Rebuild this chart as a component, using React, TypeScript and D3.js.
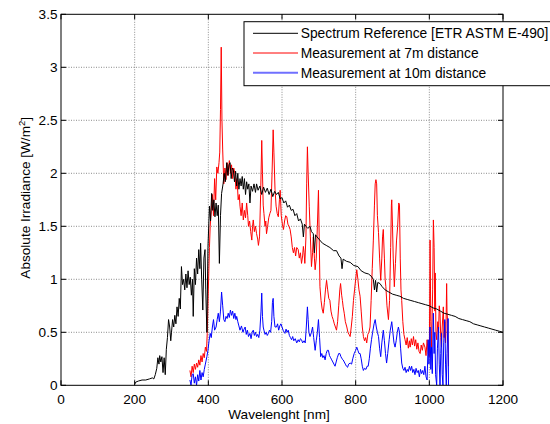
import React from 'react';
import * as d3 from 'd3';

// wavelength [nm], irradiance [W/m^2]
const refSeries: [number, number][] = [
  [200,0.01],[203,0.03],[210,0.04],[220,0.05],[230,0.05],[240,0.06],[248,0.07],[252,0.06],[256,0.1],[260,0.16],[263,0.26],[266,0.2],[268,0.28],[271,0.22],[274,0.27],[277,0.12],[280,0.26],[283,0.1],[286,0.34],[289,0.45],[292,0.62],[295,0.55],[298,0.42],[300,0.5],[303,0.62],[306,0.55],[309,0.66],[312,0.58],[315,0.74],[318,0.65],[321,0.82],[324,0.72],[327,1.12],[330,0.95],[333,1.0],[336,0.9],[339,1.05],[342,0.92],[345,1.08],[348,0.95],[351,1.02],[354,0.85],[357,1.0],[359,0.65],[362,1.1],[365,0.95],[368,1.2],[371,1.05],[374,1.28],[377,1.1],[379,1.34],[382,1.0],[385,0.71],[388,1.2],[391,1.28],[393,0.9],[396,0.5],[399,1.3],[403,1.69],[406,1.55],[409,1.81],[412,1.65],[415,1.75],[418,1.59],[421,1.72],[424,1.6],[427,1.7],[430,1.15],[433,1.6],[436,1.81],[440,1.9],[443,2.0],[446,1.92],[450,2.1],[453,1.98],[456,2.08],[459,2.1],[462,1.95],[465,2.05],[468,2.03],[471,1.92],[474,2.02],[477,1.88],[480,2.0],[483,1.85],[486,1.95],[489,1.88],[492,1.97],[495,1.85],[498,1.95],[501,1.8],[504,1.92],[507,1.85],[510,1.9],[513,1.72],[516,1.88],[520,1.83],[524,1.9],[528,1.82],[531,1.9],[535,1.84],[540,1.88],[545,1.8],[550,1.87],[555,1.82],[560,1.86],[565,1.8],[570,1.85],[575,1.78],[580,1.83],[585,1.8],[590,1.82],[595,1.76],[600,1.77],[605,1.72],[610,1.74],[615,1.68],[620,1.7],[625,1.65],[630,1.66],[635,1.6],[640,1.62],[645,1.55],[650,1.57],[655,1.52],[658,1.4],[661,1.52],[665,1.5],[670,1.48],[676,1.5],[680,1.45],[685,1.43],[688,1.25],[691,1.42],[695,1.4],[700,1.38],[710,1.34],[720,1.32],[730,1.3],[740,1.27],[748,1.27],[755,1.22],[760,1.2],[763,1.1],[766,1.19],[775,1.17],[785,1.16],[795,1.13],[806,1.12],[815,1.08],[825,1.06],[835,1.05],[842,1.03],[848,1.0],[851,0.9],[854,0.99],[857,0.88],[860,0.97],[866,0.96],[872,0.93],[880,0.9],[890,0.88],[900,0.86],[910,0.85],[920,0.84],[930,0.82],[940,0.81],[950,0.8],[960,0.79],[970,0.78],[980,0.77],[990,0.76],[1000,0.75],[1010,0.73],[1020,0.72],[1030,0.7],[1040,0.68],[1050,0.67],[1060,0.66],[1070,0.65],[1080,0.63],[1090,0.62],[1100,0.61],[1110,0.6],[1120,0.58],[1130,0.57],[1140,0.56],[1150,0.55],[1160,0.54],[1170,0.53],[1180,0.52],[1190,0.51],[1200,0.5],
];

const m7Series: [number, number][] = [
  [350,0.14],[353,0.08],[356,0.18],[359,0.12],[362,0.2],[365,0.15],[368,0.21],[371,0.17],[374,0.24],[377,0.19],[380,0.28],[383,0.22],[386,0.3],[389,0.26],[392,0.36],[395,0.32],[397,0.49],[400,0.9],[403,1.3],[405,1.5],[408,1.65],[411,1.8],[414,1.6],[417,1.95],[420,1.75],[423,2.06],[426,2.0],[429,2.1],[431,2.2],[433,2.6],[435,3.19],[437,2.5],[439,2.22],[442,1.9],[445,2.05],[448,1.94],[451,2.1],[454,1.98],[457,2.12],[460,2.0],[463,2.08],[466,1.95],[469,2.05],[472,2.0],[475,1.85],[478,1.95],[481,1.75],[484,1.8],[486,1.69],[489,1.6],[492,1.72],[495,1.56],[498,1.65],[501,1.58],[504,1.72],[507,1.6],[509,1.5],[512,1.55],[515,1.45],[518,1.37],[520,1.5],[522,1.56],[525,1.45],[528,1.5],[531,1.43],[534,1.38],[536,1.32],[539,1.4],[542,1.8],[545,2.31],[547,2.0],[549,1.7],[551,1.62],[554,1.5],[556,1.55],[558,1.43],[561,1.5],[564,1.58],[567,1.62],[570,1.65],[573,2.0],[576,2.41],[578,2.2],[581,1.85],[584,1.69],[587,1.62],[590,1.59],[593,1.75],[595,1.84],[598,1.6],[601,1.52],[604,1.47],[607,1.55],[610,1.6],[613,1.59],[616,1.52],[619,1.5],[622,1.47],[625,1.4],[628,1.3],[631,1.25],[634,1.3],[637,1.22],[640,1.3],[644,1.28],[647,1.2],[650,1.25],[653,1.15],[656,1.22],[658,1.31],[660,1.25],[662,1.15],[665,1.4],[667,1.9],[669,2.25],[671,2.0],[674,1.69],[677,1.4],[680,1.12],[683,1.25],[685,1.4],[688,1.2],[690,1.09],[693,1.2],[696,1.5],[699,1.84],[701,1.4],[703,0.93],[706,0.8],[709,0.72],[712,0.68],[715,0.78],[718,0.9],[721,0.99],[724,0.9],[727,0.82],[730,0.8],[733,0.7],[736,0.65],[739,0.62],[742,0.58],[745,0.55],[748,0.52],[751,0.6],[754,0.75],[757,0.9],[759,0.96],[762,0.85],[764,0.8],[766,0.74],[769,0.68],[772,0.6],[776,0.55],[779,0.5],[782,0.48],[785,0.46],[788,0.55],[791,0.65],[794,0.8],[797,0.9],[800,1.0],[803,1.09],[806,1.0],[809,0.9],[812,0.84],[815,0.7],[818,0.55],[821,0.46],[824,0.42],[827,0.45],[830,0.4],[833,0.48],[836,0.5],[839,0.55],[842,0.8],[845,1.1],[848,1.37],[851,1.7],[853,1.9],[855,1.94],[857,1.9],[859,1.6],[862,1.44],[865,1.2],[868,0.99],[871,1.2],[873,1.4],[875,1.47],[878,1.2],[880,1.0],[882,0.93],[885,0.75],[889,0.62],[892,0.8],[895,1.3],[897,1.7],[898,1.75],[900,1.5],[902,1.2],[905,0.93],[908,1.15],[911,1.37],[914,1.5],[917,1.72],[919,1.7],[921,1.2],[923,0.9],[925,0.8],[928,0.6],[931,0.48],[934,0.43],[937,0.38],[940,0.45],[943,0.35],[946,0.42],[948,0.36],[951,0.44],[954,0.38],[957,0.46],[960,0.37],[963,0.43],[966,0.34],[969,0.4],[972,0.32],[975,0.3],[978,0.38],[981,0.33],[984,0.4],[988,0.36],[991,0.28],[994,0.43],[997,0.3],[1000,0.27],[1002,1.37],[1004,0.6],[1006,0.36],[1009,0.9],[1011,1.56],[1013,1.3],[1015,0.7],[1016,1.06],[1018,0.5],[1020,0.43],[1023,0.6],[1025,0.5],[1027,0.75],[1029,0.68],[1031,0.45],[1033,0.36],[1035,0.55],[1038,0.74],[1040,0.45],[1042,0.6],[1044,0.4],[1045,0.49],[1047,0.96],[1048,0.7],[1050,0.58],[1052,0.18],
];

const m10Series: [number, number][] = [
  [350,0.05],[353,0.0],[356,0.1],[359,0.11],[362,0.02],[365,0.08],[368,0.0],[371,0.1],[374,0.04],[377,0.14],[380,0.05],[383,0.12],[386,0.08],[389,0.15],[392,0.2],[396,0.27],[399,0.33],[402,0.42],[405,0.49],[408,0.45],[411,0.55],[414,0.62],[417,0.52],[421,0.55],[424,0.62],[427,0.68],[430,0.6],[433,0.7],[436,0.88],[439,0.75],[442,0.62],[445,0.6],[448,0.65],[451,0.63],[454,0.68],[457,0.64],[460,0.71],[463,0.66],[466,0.7],[469,0.63],[472,0.68],[475,0.62],[477,0.65],[480,0.6],[483,0.56],[486,0.52],[490,0.56],[494,0.5],[497,0.53],[500,0.55],[503,0.48],[506,0.52],[509,0.46],[513,0.49],[516,0.44],[519,0.5],[522,0.52],[525,0.47],[528,0.5],[531,0.46],[534,0.48],[537,0.45],[540,0.52],[543,0.7],[545,0.87],[547,0.65],[549,0.55],[551,0.52],[554,0.48],[557,0.5],[560,0.47],[563,0.49],[566,0.52],[569,0.5],[572,0.6],[574,0.78],[576,0.82],[578,0.65],[581,0.55],[585,0.55],[588,0.58],[591,0.52],[594,0.56],[597,0.58],[600,0.55],[603,0.52],[606,0.5],[608,0.49],[611,0.53],[614,0.5],[617,0.52],[620,0.47],[623,0.45],[626,0.43],[629,0.46],[632,0.42],[636,0.44],[640,0.4],[644,0.43],[647,0.41],[650,0.44],[653,0.43],[656,0.4],[660,0.42],[663,0.4],[666,0.55],[669,0.74],[671,0.62],[673,0.5],[676,0.46],[680,0.5],[683,0.55],[686,0.45],[690,0.33],[693,0.42],[696,0.5],[699,0.62],[702,0.45],[705,0.27],[708,0.3],[711,0.26],[714,0.28],[717,0.24],[720,0.3],[723,0.33],[726,0.33],[729,0.28],[732,0.26],[735,0.24],[738,0.22],[741,0.2],[744,0.18],[747,0.22],[750,0.26],[754,0.3],[757,0.3],[760,0.27],[763,0.25],[766,0.24],[769,0.22],[772,0.2],[775,0.18],[778,0.17],[781,0.2],[785,0.21],[789,0.2],[792,0.25],[796,0.3],[800,0.33],[803,0.36],[806,0.33],[809,0.3],[812,0.3],[815,0.25],[818,0.18],[821,0.14],[824,0.16],[828,0.15],[831,0.18],[834,0.18],[837,0.25],[840,0.35],[843,0.43],[846,0.5],[850,0.58],[853,0.62],[856,0.55],[859,0.5],[862,0.46],[865,0.35],[868,0.27],[871,0.4],[875,0.52],[878,0.42],[881,0.3],[884,0.21],[887,0.3],[891,0.43],[894,0.52],[898,0.6],[901,0.5],[904,0.4],[907,0.36],[910,0.42],[913,0.5],[916,0.55],[919,0.5],[922,0.35],[925,0.21],[928,0.16],[931,0.14],[934,0.17],[937,0.12],[940,0.15],[943,0.13],[946,0.18],[949,0.14],[952,0.18],[955,0.12],[958,0.15],[961,0.1],[964,0.16],[967,0.12],[970,0.14],[973,0.08],[976,0.15],[979,0.11],[982,0.14],[985,0.1],[988,0.18],[991,0.08],[994,0.05],[997,0.43],[999,0.2],[1002,0.55],[1004,0.15],[1006,0.36],[1008,0.11],[1011,0.68],[1013,0.3],[1015,0.5],[1017,0.1],[1020,0.0],[1022,0.35],[1025,0.55],[1027,0.2],[1029,0.0],[1031,0.3],[1033,0.49],[1035,0.1],[1037,0.0],[1039,0.4],[1042,0.62],[1044,0.2],[1046,0.0],[1048,0.3],[1051,0.63],[1052,0.0],
];

const xTicks = [0, 200, 400, 600, 800, 1000, 1200];
const yTicks = [0, 0.5, 1, 1.5, 2, 2.5, 3, 3.5];
const legendLabels = [
  'Spectrum Reference [ETR ASTM E-490]',
  'Measurement at 7m distance',
  'Measurement at 10m distance',
];
const legendColors = ['#000000', '#ff0000', '#7070ff'];

const W = 550;
const H = 424;
const left = 61, right = 503, top = 14.3, bottom = 385.3;
const FONT = '"Liberation Sans", Arial, Helvetica, sans-serif';

export default function App() {
  const x = d3.scaleLinear().domain([0, 1200]).range([left, right]);
  const y = d3.scaleLinear().domain([0, 3.5]).range([bottom, top]);
  const line = d3.line<[number, number]>().x(d => x(d[0])).y(d => y(d[1]));
  const tick = 5;

  return (
    <svg width={W} height={H} style={{ position: 'absolute', left: 0, top: 0, background: '#fff' }}
      fontFamily={FONT} fontSize={13.6}>
      <defs>
        <clipPath id="plot">
          <rect x={left} y={top} width={right - left} height={bottom - top} />
        </clipPath>
      </defs>
      <rect x={left} y={top} width={right - left} height={bottom - top} fill="#fff" />
      {/* grid */}
      <g stroke="#6e6e6e" strokeWidth={0.8} strokeDasharray="1,1.5">
        {xTicks.slice(1, -1).map(t => (
          <line key={'gx' + t} x1={x(t)} x2={x(t)} y1={top} y2={bottom} />
        ))}
        {yTicks.slice(1, -1).map(t => (
          <line key={'gy' + t} x1={left} x2={right} y1={y(t)} y2={y(t)} />
        ))}
      </g>
      {/* data */}
      <g clipPath="url(#plot)" fill="none" strokeWidth={1} strokeLinejoin="round">
        <path d={line(m7Series) || ''} stroke="#ff0000" />
        <path d={line(refSeries) || ''} stroke="#000000" />
        <path d={line(m10Series) || ''} stroke="#0000ff" />
      </g>
      {/* box and ticks */}
      <rect x={left} y={top} width={right - left} height={bottom - top} fill="none" stroke="#000" strokeWidth={1} />
      <g stroke="#000" strokeWidth={1}>
        {xTicks.map(t => (
          <g key={'tx' + t}>
            <line x1={x(t)} x2={x(t)} y1={bottom} y2={bottom - tick} />
            <line x1={x(t)} x2={x(t)} y1={top} y2={top + tick} />
          </g>
        ))}
        {yTicks.map(t => (
          <g key={'ty' + t}>
            <line x1={left} x2={left + tick} y1={y(t)} y2={y(t)} />
            <line x1={right} x2={right - tick} y1={y(t)} y2={y(t)} />
          </g>
        ))}
      </g>
      {/* tick labels */}
      <g fill="#000">
        {xTicks.map(t => (
          <text key={'lx' + t} x={x(t)} y={403.7} textAnchor="middle">{t}</text>
        ))}
        {yTicks.map(t => (
          <text key={'ly' + t} x={57.5} y={y(t)} dy="0.36em" textAnchor="end">{t}</text>
        ))}
      </g>
      {/* axis labels */}
      <text x={(left + right) / 2 - 3} y={419} textAnchor="middle">Wavelenght [nm]</text>
      <text transform={`translate(29.5, ${(top + bottom) / 2 - 2}) rotate(-90)`} textAnchor="middle">
        Absolute Irradiance [W/m<tspan fontSize={9.5} dy={-5}>2</tspan><tspan dy={5}>]</tspan>
      </text>
      {/* legend */}
      <g fontSize={13.8}>
        <rect x={244} y={21.7} width={320} height={64} fill="#fff" stroke="#000" strokeWidth={1} />
        {legendLabels.map((lab, i) => {
          const ly = 33.3 + i * 19.7;
          return (
            <g key={lab}>
              <line x1={253} x2={298} y1={ly} y2={ly} stroke={legendColors[i]} strokeWidth={i === 2 ? 2 : 1} />
              <text x={300.7} y={ly} dy="0.36em">{lab}</text>
            </g>
          );
        })}
      </g>
    </svg>
  );
}
